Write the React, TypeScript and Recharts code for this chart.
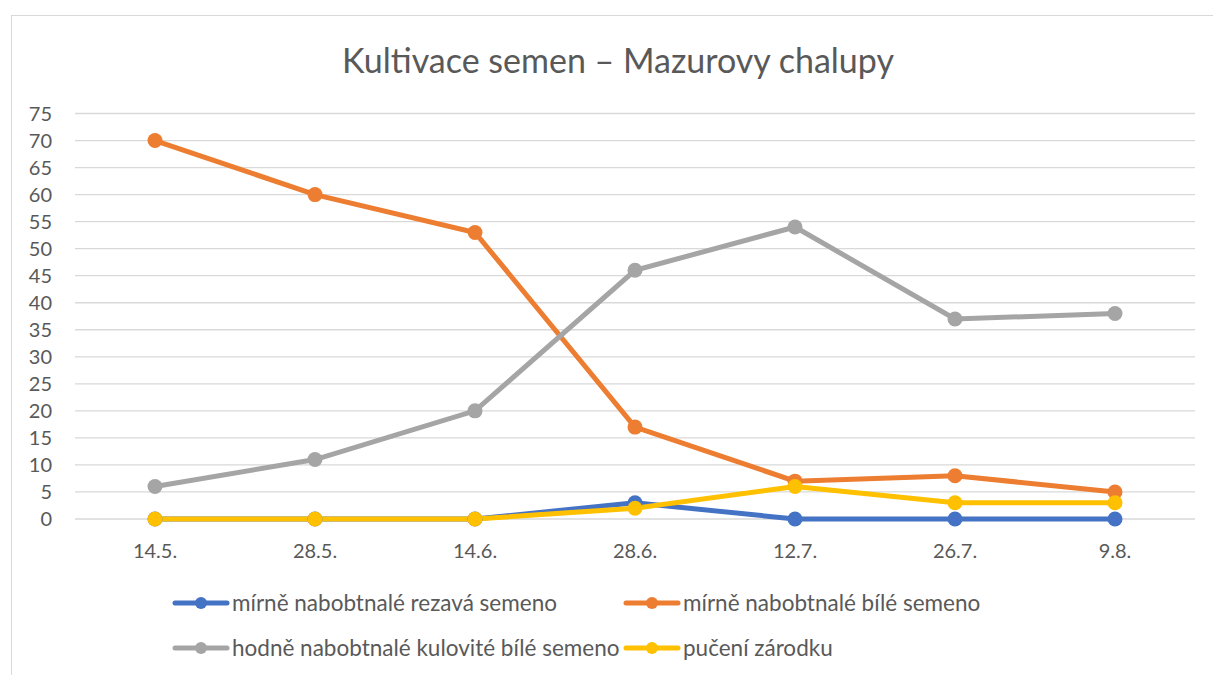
import React from "react";
import { LineChart, Line, XAxis, YAxis, CartesianGrid, Legend } from "recharts";

const categories = ["14.5.", "28.5.", "14.6.", "28.6.", "12.7.", "26.7.", "9.8."];
const rezava = [0, 0, 0, 3, 0, 0, 0];
const bile = [70, 60, 53, 17, 7, 8, 5];
const kulovite = [6, 11, 20, 46, 54, 37, 38];
const puceni = [0, 0, 0, 2, 6, 3, 3];
const yTicks = [0, 5, 10, 15, 20, 25, 30, 35, 40, 45, 50, 55, 60, 65, 70, 75];

const seriesDefs = [
  { key: "rezava", name: "mírně nabobtnalé rezavá semeno", color: "#4472C4" },
  { key: "bile", name: "mírně nabobtnalé bílé semeno", color: "#ED7D31" },
  { key: "kulovite", name: "hodně nabobtnalé kulovité bílé semeno", color: "#A5A5A5" },
  { key: "puceni", name: "pučení zárodku", color: "#FFC000" },
];

const data = categories.map((c, i) => ({
  cat: c,
  rezava: rezava[i],
  bile: bile[i],
  kulovite: kulovite[i],
  puceni: puceni[i],
}));

const FONT = "Lato, 'Open Sans', sans-serif";
const TEXT = "#595959";

const LegendIcon = ({ color }: { color: string }) => (
  <svg width={58} height={16} style={{ display: "block" }}>
    <line x1={3} y1={8} x2={55} y2={8} stroke={color} strokeWidth={5} strokeLinecap="round" />
    <circle cx={29} cy={8} r={6} fill={color} />
  </svg>
);

const renderLegend = () => {
  const cols = [0, 451];
  return (
    <div style={{ position: "relative", width: 900, height: 90, fontFamily: FONT, fontSize: 22.5, color: TEXT }}>
      {seriesDefs.map((s, i) => (
        <div
          key={s.key}
          style={{
            position: "absolute",
            left: cols[i % 2],
            top: Math.floor(i / 2) * 45,
            height: 30,
            display: "flex",
            alignItems: "center",
            whiteSpace: "nowrap",
          }}
        >
          <LegendIcon color={s.color} />
          <span style={{ marginLeft: 2, lineHeight: "30px" }}>{s.name}</span>
        </div>
      ))}
    </div>
  );
};

export default function App() {
  return (
    <div style={{ position: "absolute", left: 0, top: 0, width: 1213, height: 675, overflow: "hidden", background: "#fff" }}>
      <div
        style={{
          position: "absolute",
          left: 11,
          top: 15,
          width: 1220,
          height: 700,
          border: "1px solid #d9d9d9",
          boxSizing: "border-box",
        }}
      />
      <div
        style={{
          position: "absolute",
          left: 0,
          top: 38,
          width: 1236,
          textAlign: "center",
          fontFamily: FONT,
          fontSize: 34,
          color: TEXT,
          lineHeight: "44px",
        }}
      >
        Kultivace semen – Mazurovy chalupy
      </div>
      <div style={{ position: "absolute", left: 0, top: 0 }}>
        <LineChart width={1213} height={675} data={data} margin={{ top: 113.5, right: 18, bottom: 126, left: 20 }}>
          <CartesianGrid horizontal vertical={false} stroke="#d9d9d9" strokeWidth={1.3} />
          <XAxis
            dataKey="cat"
            height={30}
            padding={{ left: 80, right: 80 }}
            axisLine={false}
            tickLine={false}
            tickSize={0}
            tickMargin={25}
            tick={{ fill: TEXT, fontSize: 20, fontFamily: FONT }}
            interval={0}
          />
          <YAxis
            width={55}
            domain={[0, 75]}
            ticks={yTicks}
            interval={0}
            axisLine={false}
            tickLine={false}
            tickSize={0}
            tickMargin={23}
            tick={{ fill: TEXT, fontSize: 20, fontFamily: FONT }}
          />
          <Legend
            layout="horizontal"
            verticalAlign="middle"
            align="center"
            content={renderLegend}
            wrapperStyle={{ top: 588, left: 172, width: 900, height: 90 }}
          />
          {seriesDefs.map((s) => (
            <Line
              key={s.key}
              type="linear"
              dataKey={s.key}
              name={s.name}
              stroke={s.color}
              strokeWidth={5}
              dot={{ r: 7.5, fill: s.color, stroke: s.color, strokeWidth: 0 }}
              activeDot={false}
              isAnimationActive={false}
            />
          ))}
        </LineChart>
      </div>
    </div>
  );
}
